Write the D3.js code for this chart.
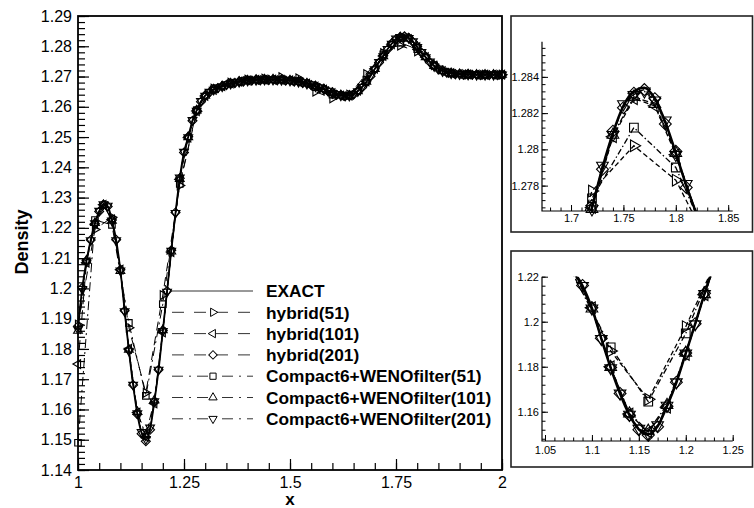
<!DOCTYPE html>
<html>
<head>
<meta charset="utf-8">
<script src="https://cdn.jsdelivr.net/npm/d3@7"></script>
<style>
  body { margin: 0; background: #fff; }
  svg text { font-family: "Liberation Sans", Arial, Helvetica, sans-serif; }
</style>
</head>
<body>
<svg id="chart" width="754" height="508"></svg>
<script>
// density samples, x from 1 to 2 (201-pt grid: dx=0.01, 101-pt: 0.02, 51-pt: 0.04)
const exactRho = [
  1.1870, 1.2000, 1.2090, 1.2160, 1.2215, 1.2255, 1.2278, 1.2272, 1.2225, 1.2160,
  1.2060, 1.1925, 1.1795, 1.1680, 1.1585, 1.1522, 1.1500, 1.1535, 1.1625, 1.1730,
  1.1860, 1.1990, 1.2125, 1.2250, 1.2365, 1.2450, 1.2500, 1.2555, 1.2588, 1.2618,
  1.2637, 1.2648, 1.2657, 1.2663, 1.2668, 1.2673, 1.2677, 1.2680, 1.2683, 1.2685,
  1.2687, 1.2688, 1.2689, 1.2689, 1.2690, 1.2690, 1.2690, 1.2689, 1.2689, 1.2688,
  1.2687, 1.2685, 1.2683, 1.2680, 1.2677, 1.2673, 1.2668, 1.2663, 1.2658, 1.2652,
  1.2646, 1.2641, 1.2638, 1.2636, 1.2637, 1.2642, 1.2652, 1.2665, 1.2682, 1.2702,
  1.2725, 1.2747, 1.2768, 1.2790, 1.2809, 1.2824, 1.2832, 1.2834, 1.2828, 1.2815,
  1.2798, 1.2780, 1.2764, 1.2748, 1.2735, 1.2725, 1.2718, 1.2714, 1.2711, 1.2709,
  1.2708, 1.2707, 1.2707, 1.2707, 1.2706, 1.2706, 1.2706, 1.2706, 1.2706, 1.2706,
  1.2706
];
const hybrid201 = [
  1.1875, 1.2002, 1.2091, 1.2160, 1.2214, 1.2254, 1.2277, 1.2271, 1.2226, 1.2161,
  1.2062, 1.1926, 1.1797, 1.1681, 1.1584, 1.1520, 1.1495, 1.1533, 1.1624, 1.1731,
  1.1861, 1.1991, 1.2126, 1.2251, 1.2364, 1.2449, 1.2501, 1.2554, 1.2589, 1.2617,
  1.2638, 1.2647, 1.2658, 1.2662, 1.2669, 1.2672, 1.2678, 1.2679, 1.2684, 1.2684,
  1.2688, 1.2687, 1.2690, 1.2688, 1.2691, 1.2689, 1.2691, 1.2688, 1.2690, 1.2687,
  1.2688, 1.2684, 1.2684, 1.2679, 1.2678, 1.2672, 1.2669, 1.2662, 1.2659, 1.2651,
  1.2647, 1.2640, 1.2639, 1.2635, 1.2638, 1.2641, 1.2653, 1.2664, 1.2683, 1.2701,
  1.2726, 1.2746, 1.2769, 1.2789, 1.2810, 1.2823, 1.2831, 1.2833, 1.2828, 1.2814,
  1.2799, 1.2779, 1.2765, 1.2747, 1.2736, 1.2724, 1.2719, 1.2713, 1.2712, 1.2708,
  1.2709, 1.2706, 1.2708, 1.2706, 1.2707, 1.2705, 1.2707, 1.2705, 1.2707, 1.2705,
  1.2706
];
const compact201 = [
  1.1865, 1.1998, 1.2089, 1.2159, 1.2215, 1.2256, 1.2278, 1.2273, 1.2224, 1.2159,
  1.2059, 1.1924, 1.1794, 1.1681, 1.1587, 1.1525, 1.1502, 1.1540, 1.1627, 1.1731,
  1.1859, 1.1989, 1.2124, 1.2249, 1.2366, 1.2451, 1.2499, 1.2556, 1.2587, 1.2619,
  1.2636, 1.2649, 1.2656, 1.2664, 1.2667, 1.2674, 1.2676, 1.2681, 1.2682, 1.2686,
  1.2686, 1.2689, 1.2688, 1.2690, 1.2689, 1.2691, 1.2689, 1.2690, 1.2688, 1.2689,
  1.2686, 1.2686, 1.2682, 1.2681, 1.2676, 1.2674, 1.2667, 1.2664, 1.2657, 1.2653,
  1.2645, 1.2642, 1.2637, 1.2637, 1.2636, 1.2643, 1.2651, 1.2666, 1.2681, 1.2703,
  1.2724, 1.2748, 1.2767, 1.2791, 1.2808, 1.2825, 1.2830, 1.2832, 1.2827, 1.2816,
  1.2797, 1.2781, 1.2763, 1.2749, 1.2734, 1.2726, 1.2717, 1.2715, 1.2710, 1.2710,
  1.2707, 1.2708, 1.2706, 1.2708, 1.2705, 1.2707, 1.2705, 1.2707, 1.2705, 1.2707,
  1.2706
];
const hybrid101 = [
  1.1750, 1.2085, 1.2212, 1.2276, 1.2228, 1.2062, 1.1800, 1.1590, 1.1510, 1.1620,
  1.1855, 1.2120, 1.2360, 1.2498, 1.2586, 1.2636, 1.2656, 1.2668, 1.2677, 1.2683,
  1.2687, 1.2689, 1.2690, 1.2690, 1.2689, 1.2687, 1.2683, 1.2677, 1.2667, 1.2657,
  1.2645, 1.2637, 1.2637, 1.2653, 1.2684, 1.2726, 1.2768, 1.2807, 1.2828, 1.2824,
  1.2797, 1.2764, 1.2736, 1.2718, 1.2711, 1.2708, 1.2707, 1.2706, 1.2706, 1.2706,
  1.2706
];
const compact101 = [
  1.1860, 1.2092, 1.2216, 1.2275, 1.2224, 1.2058, 1.1798, 1.1592, 1.1515, 1.1630,
  1.1862, 1.2122, 1.2362, 1.2500, 1.2588, 1.2637, 1.2657, 1.2668, 1.2677, 1.2683,
  1.2687, 1.2689, 1.2690, 1.2690, 1.2689, 1.2687, 1.2683, 1.2677, 1.2668, 1.2658,
  1.2646, 1.2638, 1.2637, 1.2652, 1.2683, 1.2725, 1.2767, 1.2808, 1.2829, 1.2825,
  1.2798, 1.2764, 1.2735, 1.2718, 1.2711, 1.2708, 1.2707, 1.2706, 1.2706, 1.2706,
  1.2706
];
const hybrid51 = [
  1.1880, 1.2195, 1.2235, 1.1870, 1.1655, 1.1978, 1.2340, 1.2585, 1.2660, 1.2680,
  1.2690, 1.2693, 1.2698, 1.2694, 1.2650, 1.2628, 1.2640, 1.2708, 1.2777, 1.2802,
  1.2783, 1.2738, 1.2712, 1.2707, 1.2706, 1.2706
];
const compact51 = [
  1.1490, 1.2226, 1.2210, 1.1886, 1.1645, 1.1948, 1.2345, 1.2588, 1.2658, 1.2678,
  1.2688, 1.2690, 1.2690, 1.2685, 1.2665, 1.2640, 1.2636, 1.2690, 1.2773, 1.2812,
  1.2790, 1.2737, 1.2711, 1.2707, 1.2706, 1.2706
];

const seriesNames = [
  "EXACT", "hybrid(51)", "hybrid(101)", "hybrid(201)",
  "Compact6+WENOfilter(51)", "Compact6+WENOfilter(101)", "Compact6+WENOfilter(201)"
];

const mainXTicks = [1, 1.25, 1.5, 1.75, 2];
const mainYTicks = [1.14, 1.15, 1.16, 1.17, 1.18, 1.19, 1.2, 1.21, 1.22, 1.23, 1.24, 1.25, 1.26, 1.27, 1.28, 1.29];
const peakXTicks = [1.7, 1.75, 1.8, 1.85];
const peakYTicks = [1.278, 1.28, 1.282, 1.284];
const dipXTicks = [1.05, 1.1, 1.15, 1.2, 1.25];
const dipYTicks = [1.16, 1.18, 1.2, 1.22];

const grid = (n, dx) => d3.range(n).map((i) => 1 + i * dx);

const series = [
  { name: seriesNames[0], xs: grid(101, 0.01), ys: exactRho, dash: null, sym: null },
  { name: seriesNames[1], xs: grid(26, 0.04), ys: hybrid51, dash: "dash", sym: "right" },
  { name: seriesNames[2], xs: grid(51, 0.02), ys: hybrid101, dash: "dash", sym: "left" },
  { name: seriesNames[3], xs: grid(101, 0.01), ys: hybrid201, dash: "dash", sym: "diamond" },
  { name: seriesNames[4], xs: grid(26, 0.04), ys: compact51, dash: "dashdot", sym: "square" },
  { name: seriesNames[5], xs: grid(51, 0.02), ys: compact101, dash: "dashdot", sym: "up" },
  { name: seriesNames[6], xs: grid(101, 0.01), ys: compact201, dash: "dashdot", sym: "down" },
];

const fmt = (d) => String(+d.toFixed(4));

const svg = d3.select("#chart");
svg.append("rect").attr("width", 754).attr("height", 508).attr("fill", "#fff");

function symbolPath(type, s) {
  if (type === "square") return d3.symbol(d3.symbolSquare, (6.2 * s) ** 2)();
  if (type === "diamond") return d3.symbol(d3.symbolSquare, (6 * s) ** 2)();
  return d3.symbol(d3.symbolTriangle, 30 * s * s)();
}
const symbolRotate = { square: 0, diamond: 45, up: 0, right: 90, down: 180, left: -90 };

let clipCount = 0;
function drawPanel(g, x, y, opt) {
  const [x0, x1] = x.range();
  const [y1, y0] = y.range();
  const id = "clip" + clipCount++;
  g.append("clipPath").attr("id", id)
    .append("rect").attr("x", x0).attr("y", y0).attr("width", x1 - x0).attr("height", y1 - y0);

  const xd = x.domain(), yd = y.domain();
  const tolY = (yd[1] - yd[0]) * 0.01;

  const order = series.slice(1).concat(series.slice(0, 1));
  order.forEach((s) => {
    const pts = s.xs.map((xv, i) => [xv, s.ys[i]]);
    const line = d3.line()
      .x((d) => x(d[0]))
      .y((d) => y(d[1]))
      .curve(s.sym ? d3.curveLinear : d3.curveMonotoneX);

    g.append("path")
      .attr("clip-path", `url(#${id})`)
      .attr("d", line(pts))
      .attr("fill", "none")
      .attr("stroke", "#000")
      .attr("stroke-width", s.sym ? opt.lw : opt.exactLw)
      .attr("stroke-dasharray", s.dash ? opt.dashes[s.dash] : null);

    if (!s.sym) return;
    const inside = pts.filter((d) =>
      d[0] >= xd[0] - 1e-9 && d[0] <= xd[1] + 1e-9 &&
      d[1] >= yd[0] - tolY && d[1] <= yd[1] + tolY);
    g.selectAll(null)
      .data(inside)
      .enter()
      .append("path")
      .attr("d", symbolPath(s.sym, opt.mark))
      .attr("transform", (d) => `translate(${x(d[0])},${y(d[1])}) rotate(${symbolRotate[s.sym]})`)
      .attr("fill", "none")
      .attr("stroke", "#000")
      .attr("stroke-width", opt.markLw);
  });
}

function drawAxes(g, x, y, opt) {
  const [x0] = x.range();
  const [y1] = y.range();
  const styleAxis = (a) => {
    a.select(".domain").remove();
    a.selectAll("line").attr("stroke", "#000").attr("stroke-width", opt.tickLw);
    a.selectAll("text").attr("font-size", opt.font).attr("fill", "#000")
      .attr("font-family", '"Liberation Sans", Arial, sans-serif');
  };
  g.append("g").attr("transform", `translate(0,${y1})`)
    .call(d3.axisBottom(x).tickValues(opt.xMinor).tickSize(-opt.minor).tickFormat(""))
    .call(styleAxis);
  g.append("g").attr("transform", `translate(0,${y1})`)
    .call(d3.axisBottom(x).tickValues(opt.xTicks).tickSize(-opt.major).tickPadding(opt.xPad).tickFormat(fmt))
    .call(styleAxis);
  g.append("g").attr("transform", `translate(${x0},0)`)
    .call(d3.axisLeft(y).tickValues(opt.yMinor).tickSize(-opt.minor).tickFormat(""))
    .call(styleAxis);
  g.append("g").attr("transform", `translate(${x0},0)`)
    .call(d3.axisLeft(y).tickValues(opt.yTicks).tickSize(-opt.major).tickPadding(opt.yPad).tickFormat(fmt))
    .call(styleAxis);
}

// main plot
const x = d3.scaleLinear().domain([1, 2]).range([78, 502]);
const y = d3.scaleLinear().domain([1.14, 1.29]).range([470, 16]);
const mainG = svg.append("g");

drawPanel(mainG, x, y, {
  lw: 1, exactLw: 1.8, markLw: 1.15, mark: 1.05,
  dashes: { dash: "9,6", dashdot: "9,4,2,4" },
});
drawAxes(mainG, x, y, {
  xTicks: mainXTicks, yTicks: mainYTicks,
  xMinor: d3.range(1, 2.0001, 0.05), yMinor: d3.range(1.14, 1.2901, 0.002),
  major: 11, minor: 7, tickLw: 1.2, font: 16, xPad: 7, yPad: 6,
});
mainG.append("rect")
  .attr("x", 78).attr("y", 16).attr("width", 424).attr("height", 454)
  .attr("fill", "none").attr("stroke", "#000").attr("stroke-width", 1.8);

svg.append("text")
  .attr("transform", "translate(28,242) rotate(-90)")
  .attr("text-anchor", "middle")
  .attr("font-size", 18).attr("font-weight", "bold")
  .text("Density");
svg.append("text")
  .attr("x", 290).attr("y", 505)
  .attr("text-anchor", "middle")
  .attr("font-size", 17).attr("font-weight", "bold")
  .text("x");

// legend
const legend = svg.append("g");
series.forEach((s, i) => {
  const ly = 291 + i * 21.3;
  legend.append("line")
    .attr("x1", 172).attr("x2", 253).attr("y1", ly).attr("y2", ly)
    .attr("stroke", "#333").attr("stroke-width", 1)
    .attr("stroke-dasharray", s.dash === "dash" ? "12,10" : s.dash === "dashdot" ? "11,6,2,6" : null);
  if (s.sym) {
    legend.append("path")
      .attr("d", symbolPath(s.sym, 1))
      .attr("transform", `translate(213,${ly}) rotate(${symbolRotate[s.sym]})`)
      .attr("fill", "#fff").attr("stroke", "#000").attr("stroke-width", 1);
  }
  legend.append("text")
    .attr("x", 266).attr("y", ly).attr("dy", "0.36em")
    .attr("font-size", 17.3).attr("font-weight", "bold")
    .text(s.name);
});

// zoom boxes
const insetOpt = {
  lw: 1.3, exactLw: 2.5, markLw: 1.1, mark: 1.4,
  dashes: { dash: "5,3", dashdot: "6,2.5,1.5,2.5" },
};

const peak = svg.append("g");
peak.append("rect").attr("x", 511).attr("y", 16).attr("width", 241.5).attr("height", 216)
  .attr("fill", "#fff").attr("stroke", "#222").attr("stroke-width", 1.6);
const px = d3.scaleLinear().domain([1.6723, 1.8543]).range([542, 732.7]);
const py = d3.scaleLinear().domain([1.2766, 1.28594]).range([211, 41.7]);
drawPanel(peak, px, py, insetOpt);
drawAxes(peak, px, py, {
  xTicks: peakXTicks, yTicks: peakYTicks,
  xMinor: d3.range(1.68, 1.8501, 0.01), yMinor: d3.range(1.2768, 1.2858, 0.0004),
  major: 6, minor: 3.5, tickLw: 1, font: 11, xPad: 3, yPad: 3,
});
peak.append("path")
  .attr("d", `M542,41.7V211H732.7`)
  .attr("fill", "none").attr("stroke", "#000").attr("stroke-width", 1.2);

const dip = svg.append("g");
dip.append("rect").attr("x", 511).attr("y", 251).attr("width", 241.5).attr("height", 216)
  .attr("fill", "#fff").attr("stroke", "#222").attr("stroke-width", 1.6);
const dx = d3.scaleLinear().domain([1.0468, 1.25]).range([542, 732.7]);
const dy = d3.scaleLinear().domain([1.147, 1.22]).range([441, 276.7]);
drawPanel(dip, dx, dy, insetOpt);
drawAxes(dip, dx, dy, {
  xTicks: dipXTicks, yTicks: dipYTicks,
  xMinor: d3.range(1.05, 1.2501, 0.01), yMinor: d3.range(1.148, 1.2201, 0.004),
  major: 6, minor: 3.5, tickLw: 1, font: 11, xPad: 5, yPad: 3,
});
dip.append("path")
  .attr("d", `M542,276.7V441H732.7`)
  .attr("fill", "none").attr("stroke", "#000").attr("stroke-width", 1.2);
</script>
</body>
</html>
